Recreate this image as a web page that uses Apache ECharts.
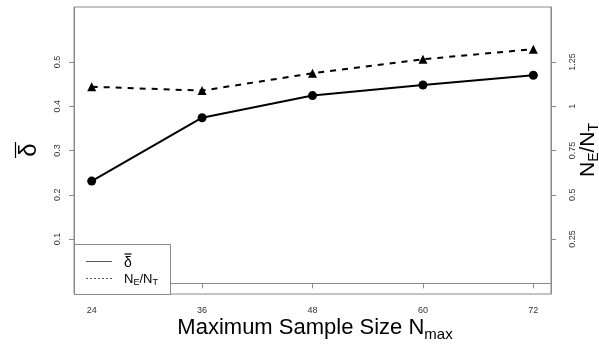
<!DOCTYPE html>
<html><head><meta charset="utf-8">
<script src="https://cdn.jsdelivr.net/npm/echarts@6/dist/echarts.min.js"></script>
<style>html,body{margin:0;padding:0;background:#fff}#c{width:599px;height:347px}</style>
</head><body><div id="c"></div>
<script>
var sampleSizes = [24, 36, 48, 60, 72];
var deltaBar = [0.231, 0.374, 0.424, 0.448, 0.470];
var ratioNE_NT = [1.11, 1.088, 1.186, 1.265, 1.322];
var xTicks = [24, 36, 48, 60, 72];
var leftTicks = [0.1, 0.2, 0.3, 0.4, 0.5];
var rightTicks = [0.25, 0.5, 0.75, 1, 1.25];

var FONT = 'Liberation Sans';
var chart = echarts.init(document.getElementById('c'), null, {renderer: 'canvas'});
var axisGray = '#8a8a8a';
function pairs(xs, ys) { return xs.map(function (x, i) { return [x, ys[i]]; }); }

chart.setOption({
  animation: false,
  backgroundColor: '#fff',
  textStyle: {fontFamily: FONT},
  grid: {left: 74, right: 48, top: 7, bottom: 53, show: true, borderColor: axisGray, borderWidth: 1},
  xAxis: {
    type: 'value', min: 22.08, max: 73.92,
    axisLine: {show: true, lineStyle: {color: axisGray}},
    axisTick: {show: true, customValues: xTicks, length: 5, lineStyle: {color: axisGray}},
    axisLabel: {customValues: xTicks, fontSize: 9, color: '#333', margin: 12, fontFamily: FONT},
    splitLine: {show: false}
  },
  yAxis: [{
    type: 'value', min: -0.024, max: 0.624, position: 'left',
    axisLine: {show: true, lineStyle: {color: axisGray}},
    axisTick: {show: true, customValues: leftTicks, length: 5, lineStyle: {color: axisGray}},
    axisLabel: {customValues: leftTicks, fontSize: 9, color: '#333', rotate: 90, margin: 12, fontFamily: FONT},
    splitLine: {show: false}
  }, {
    type: 'value', min: -0.06, max: 1.56, position: 'right',
    axisLine: {show: true, lineStyle: {color: axisGray}},
    axisTick: {show: true, customValues: rightTicks, length: 5, lineStyle: {color: axisGray}},
    axisLabel: {customValues: rightTicks, fontSize: 9, color: '#333', rotate: 90, margin: 17, fontFamily: FONT},
    splitLine: {show: false}
  }],
  series: [{
    type: 'line', yAxisIndex: 0, data: pairs(sampleSizes, deltaBar),
    symbol: 'circle', symbolSize: 9,
    lineStyle: {color: '#000', width: 2}, itemStyle: {color: '#000'}
  }, {
    type: 'line', yAxisIndex: 1, data: pairs(sampleSizes, ratioNE_NT),
    symbol: 'triangle', symbolSize: 9,
    lineStyle: {color: '#000', width: 2, type: [6, 6]}, itemStyle: {color: '#000'}
  }],
  graphic: [
    {type: 'text', x: 29, y: 150, rotation: Math.PI / 2,
     style: {text: 'δ', font: '24px ' + FONT, fill: '#000', align: 'center', verticalAlign: 'middle'}},
    {type: 'line', shape: {x1: 15.5, y1: 142, x2: 15.5, y2: 158}, style: {stroke: '#000', lineWidth: 1.2}},
    {type: 'text', x: 588, y: 150, rotation: Math.PI / 2,
     style: {text: '{n|N}{s|E}{n|/N}{s|T}', align: 'center', verticalAlign: 'middle', fill: '#000',
       rich: {n: {fontSize: 21, fontFamily: FONT, lineHeight: 22, verticalAlign: 'middle'},
              s: {fontSize: 14, fontFamily: FONT, lineHeight: 14, padding: [12, 0, 0, 0], verticalAlign: 'middle'}}}},
    {type: 'text', x: 315, y: 328,
     style: {text: '{n|Maximum Sample Size N}{s|max}', align: 'center', verticalAlign: 'middle', fill: '#000',
       rich: {n: {fontSize: 22, fontFamily: FONT, lineHeight: 24, verticalAlign: 'middle'},
              s: {fontSize: 15, fontFamily: FONT, lineHeight: 15, padding: [13, 0, 0, 0], verticalAlign: 'middle'}}}},
    {type: 'rect', shape: {x: 74.5, y: 244.5, width: 96, height: 50},
     style: {fill: '#fff', stroke: axisGray, lineWidth: 1}, z: 100},
    {type: 'line', shape: {x1: 86, y1: 261.5, x2: 112, y2: 261.5},
     style: {stroke: '#555', lineWidth: 1}, z: 101},
    {type: 'line', shape: {x1: 86, y1: 278.5, x2: 112, y2: 278.5},
     style: {stroke: '#555', lineWidth: 1, lineDash: [2, 2]}, z: 101},
    {type: 'text', x: 124, y: 263, z: 101,
     style: {text: 'δ', font: '14px ' + FONT, fill: '#000', verticalAlign: 'middle'}},
    {type: 'line', shape: {x1: 124.5, y1: 254, x2: 131.5, y2: 254},
     style: {stroke: '#000', lineWidth: 1.2}, z: 102},
    {type: 'text', x: 124, y: 279, z: 101,
     style: {text: '{n|N}{s|E}{n|/N}{s|T}', verticalAlign: 'middle', fill: '#000',
       rich: {n: {fontSize: 13, fontFamily: FONT, lineHeight: 15, verticalAlign: 'middle'},
              s: {fontSize: 9, fontFamily: FONT, lineHeight: 9, padding: [7, 0, 0, 0], verticalAlign: 'middle'}}}}
  ]
});
</script>
</body></html>
